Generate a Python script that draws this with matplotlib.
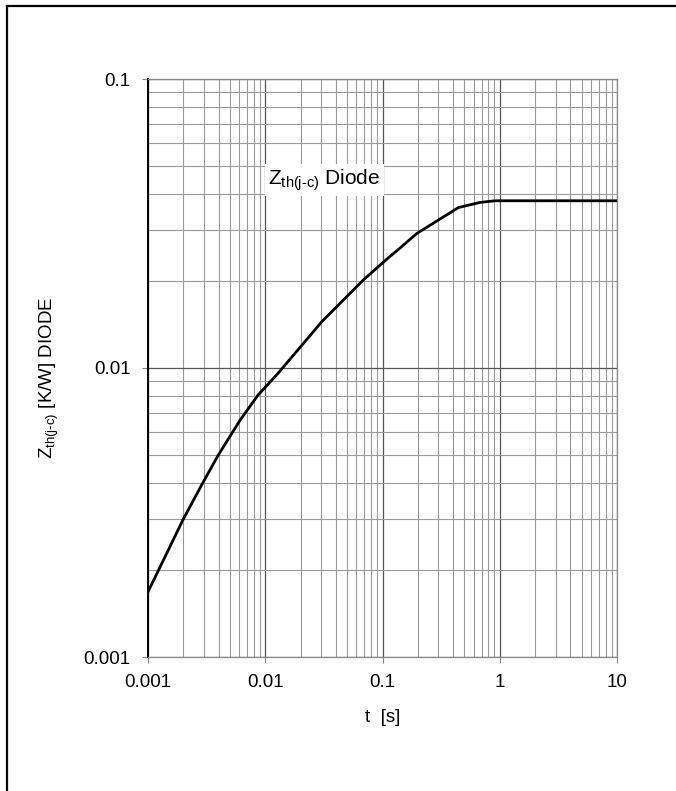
import numpy as np
import matplotlib
matplotlib.use('Agg')
import matplotlib.pyplot as plt
from matplotlib.lines import Line2D

plt.rcParams['font.family'] = ['Liberation Sans', 'DejaVu Sans']
plt.rcParams['mathtext.fontset'] = 'custom'
plt.rcParams['mathtext.rm'] = 'Liberation Sans'
plt.rcParams['mathtext.it'] = 'Liberation Sans'

# thermal impedance curve
t_s = [0.001, 0.002, 0.00287, 0.00398, 0.0061, 0.0087, 0.0129, 0.0303, 0.0686,
       0.1087, 0.141, 0.196, 0.444, 0.68, 0.91, 10]
zth = [0.00168, 0.003, 0.00394, 0.005, 0.0066, 0.00807, 0.0096, 0.01445, 0.02016,
       0.0238, 0.026, 0.0292, 0.0359, 0.0374, 0.0379, 0.0379]

x_ticks = [0.001, 0.01, 0.1, 1, 10]
x_labels = ['0.001', '0.01', '0.1', '1', '10']
y_ticks = [0.001, 0.01, 0.1]
y_labels = ['0.001', '0.01', '0.1']

fig = plt.figure(figsize=(6.76, 7.91), dpi=100)
ax = fig.add_axes([148 / 676, 1 - 657 / 791, 469 / 676, 578 / 791])

ax.set_xscale('log')
ax.set_yscale('log')
ax.set_xlim(0.001, 10)
ax.set_ylim(0.001, 0.1)

# grid
ax.grid(True, which='major', color='#555555', lw=0.9)
ax.grid(True, which='minor', color='#9a9a9a', lw=0.8)
ax.set_axisbelow(True)

ax.plot(t_s, zth, color='black', lw=2.0, solid_joinstyle='round')

ax.set_xticks(x_ticks)
ax.set_xticklabels(x_labels)
ax.set_yticks(y_ticks)
ax.set_yticklabels(y_labels)
ax.xaxis.set_minor_formatter(plt.NullFormatter())
ax.yaxis.set_minor_formatter(plt.NullFormatter())
ax.tick_params(which='major', direction='out', length=4.5, width=0.8,
               color='#888888', labelsize=13.5, pad=8)
ax.tick_params(which='minor', length=0)

for side in ['top', 'right', 'bottom']:
    ax.spines[side].set_color('#888888')
    ax.spines[side].set_linewidth(0.9)
ax.spines['left'].set_color('black')
ax.spines['left'].set_linewidth(1.4)

# label inside the plot
ax.text(0.0106, 0.0447, r'$\mathrm{Z_{th(j\text{-}c)}}$ Diode', fontsize=15,
        va='center', ha='left',
        bbox=dict(facecolor='white', edgecolor='none', pad=2.5))

fig.text(383 / 676, 1 - 718 / 791, 't  [s]', fontsize=13.5, ha='center', va='center')
fig.text(49 / 676, 1 - 378 / 791, r'$\mathrm{Z_{th(j\text{-}c)}}$ [K/W] DIODE',
         fontsize=13.5, rotation=90, ha='center', va='center')

# outer frame: only the left and top edges are visible
fig.add_artist(Line2D([6.5 / 676, 6.5 / 676], [0, 1 - 5.5 / 791],
                      transform=fig.transFigure, color='black', lw=1.6))
fig.add_artist(Line2D([6.5 / 676, 1], [1 - 5.5 / 791, 1 - 5.5 / 791],
                      transform=fig.transFigure, color='black', lw=1.6))

fig.savefig('out.png', dpi=100)
